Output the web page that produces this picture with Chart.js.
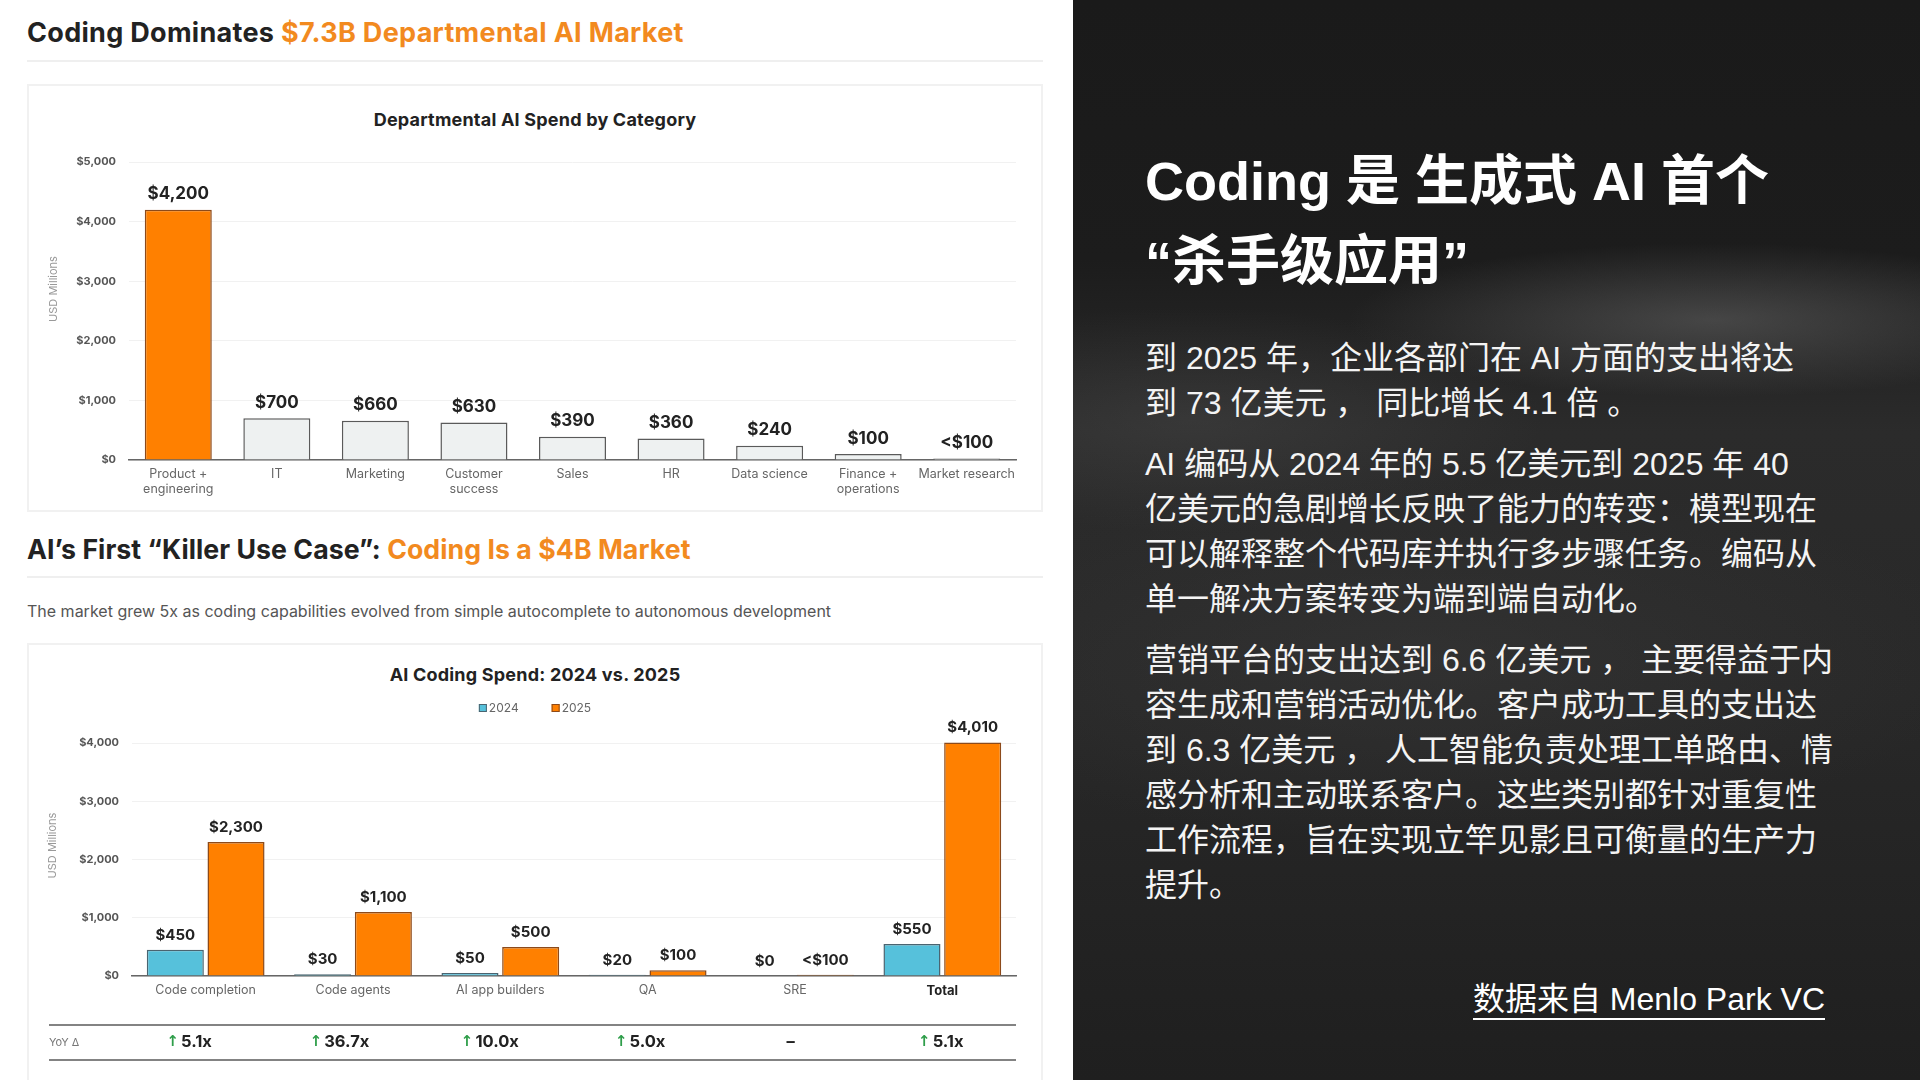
<!DOCTYPE html>
<html><head><meta charset="utf-8">
<script src="https://cdn.jsdelivr.net/npm/chart.js@4.4.1/dist/chart.umd.min.js"></script>
<style>
html,body{margin:0;padding:0;width:1920px;height:1080px;overflow:hidden;background:#fff;}
#left{position:absolute;left:0;top:0;width:1073px;height:1080px;background:#fff;font-family:Inter,"Noto Sans",sans-serif;}
.h{position:absolute;left:27px;font-weight:700;font-size:27px;color:#222;white-space:nowrap;letter-spacing:0.3px;line-height:32px}
.h span{color:#f28a1f}
.sep{position:absolute;left:27px;width:1016px;height:2px;background:#efefef}
.card{position:absolute;left:27px;width:1012px;border:2px solid #f1f1f1;background:#fff}
.ct{position:absolute;left:27px;width:1016px;text-align:center;font-weight:700;font-size:18px;color:#222;line-height:22px;letter-spacing:0.2px}
.sub{position:absolute;left:27px;top:601px;font-size:16px;color:#555;line-height:20px;white-space:nowrap}
canvas{position:absolute}
#right{position:absolute;left:1073px;top:0;width:847px;height:1080px;color:#fff;font-family:"Liberation Sans","Noto Sans CJK SC",sans-serif;
background:
 radial-gradient(ellipse 520px 110px at 640px 320px, rgba(100,100,100,0.55), rgba(100,100,100,0) 70%),
 radial-gradient(ellipse 500px 160px at 120px 420px, rgba(80,80,80,0.35), rgba(80,80,80,0) 70%),
 radial-gradient(ellipse 800px 260px at 350px 660px, rgba(60,60,60,0.45), rgba(60,60,60,0) 70%),
 linear-gradient(180deg,#1a1a1a 0%,#1c1c1c 24%,#2b2b2b 40%,#282828 65%,#1f1f1f 100%);}
.rh{position:absolute;left:72px;top:141px;font-size:54px;font-weight:700;line-height:80px;white-space:nowrap}
.rp{position:absolute;left:72px;font-size:32px;line-height:45px;white-space:nowrap;color:#f4f4f4}
.src{position:absolute;right:95px;top:981px;font-size:32px;line-height:37px;border-bottom:2px solid #fff;white-space:nowrap}
</style></head>
<body>
<div id="left">
  <div class="h" style="top:17px">Coding Dominates <span>$7.3B Departmental AI Market</span></div>
  <div class="sep" style="top:60px"></div>
  <div class="card" style="top:84px;height:424px"></div>
  <div class="ct" style="top:109px">Departmental AI Spend by Category</div>
  <canvas id="c1" width="1016" height="372" style="left:27px;top:140px;width:1016px;height:372px"></canvas>

  <div class="h" style="top:533px;font-size:26.7px;letter-spacing:0.05px">AI’s First “Killer Use Case”: <span>Coding Is a $4B Market</span></div>
  <div class="sep" style="top:576px"></div>
  <div class="sub">The market grew 5x as coding capabilities evolved from simple autocomplete to autonomous development</div>
  <div class="card" style="top:643px;height:450px"></div>
  <div class="ct" style="top:664px">AI Coding Spend: 2024 vs. 2025</div>
  <canvas id="c2" width="1016" height="385" style="left:27px;top:695px;width:1016px;height:385px"></canvas>
</div>
<div id="right">
  <div class="rh">Coding 是 生成式 AI 首个<br>“杀手级应用”</div>
  <div class="rp" style="top:336px">到 2025 年，企业各部门在 AI 方面的支出将达<br>到 73 亿美元 ， 同比增长 4.1 倍 。</div>
  <div class="rp" style="top:442px">AI 编码从 2024 年的 5.5 亿美元到 2025 年 40<br>亿美元的急剧增长反映了能力的转变：模型现在<br>可以解释整个代码库并执行多步骤任务。编码从<br>单一解决方案转变为端到端自动化。</div>
  <div class="rp" style="top:638px">营销平台的支出达到 6.6 亿美元 ， 主要得益于内<br>容生成和营销活动优化。客户成功工具的支出达<br>到 6.3 亿美元 ， 人工智能负责处理工单路由、情<br>感分析和主动联系客户。这些类别都针对重复性<br>工作流程，旨在实现立竿见影且可衡量的生产力<br>提升。</div>
  <div class="src">数据来自 Menlo Park VC</div>
</div>
<script>
// ---------- data ----------
const deptCategories = [["Product +","engineering"],"IT","Marketing",["Customer","success"],"Sales","HR","Data science",["Finance +","operations"],"Market research"];
const deptSpend = [4200,700,660,630,390,360,240,100,25];
const deptSpendLabels = ["$4,200","$700","$660","$630","$390","$360","$240","$100","<$100"];
const deptTicks = [0,1000,2000,3000,4000,5000];
const deptTickLabels = ["$0","$1,000","$2,000","$3,000","$4,000","$5,000"];

const codingCategories = ["Code completion","Code agents","AI app builders","QA","SRE","Total"];
const coding2024 = [450,30,50,20,0,550];
const coding2025 = [2300,1100,500,100,20,4010];
const coding2024Labels = ["$450","$30","$50","$20","$0","$550"];
const coding2025Labels = ["$2,300","$1,100","$500","$100","<$100","$4,010"];
const codingTicks = [0,1000,2000,3000,4000];
const codingTickLabels = ["$0","$1,000","$2,000","$3,000","$4,000"];
const yoyTitle = "YoY Δ";
const yoyValues = ["5.1x","36.7x","10.0x","5.0x","–","5.1x"];
const yoyUp = [true,true,true,true,false,true];
const seriesNames = ["2024","2025"];
const axisTitle = "USD Millions";

// ---------- styles ----------
const ORANGE = '#FF8000', ORANGE_B = '#8c4a1a', GRAY = '#EEF1F1', GRAY_B = '#5a5a5a', BLUE = '#56C1DB', BLUE_B = '#4a6470';
Chart.defaults.font.family = 'Inter, "Noto Sans", sans-serif';
Chart.defaults.animation = false;

const valueLabels = {
  id: 'valueLabels',
  afterDatasetsDraw(chart, args, opts) {
    const ctx = chart.ctx;
    chart.data.datasets.forEach((ds, di) => {
      const meta = chart.getDatasetMeta(di);
      meta.data.forEach((bar, i) => {
        ctx.save();
        ctx.font = opts.font; ctx.fillStyle = '#222';
        ctx.textAlign = 'center'; ctx.textBaseline = 'bottom';
        ctx.fillText(ds.valueLabels[i], bar.x, bar.y - opts.offset);
        ctx.restore();
      });
    });
  }
};

const sideTitle = {
  id: 'sideTitle',
  afterDraw(chart, args, opts) {
    const ctx = chart.ctx, area = chart.chartArea;
    ctx.save();
    ctx.translate(opts.x, (area.top + area.bottom) / 2 + opts.dy);
    ctx.rotate(-Math.PI / 2);
    ctx.font = '11px Inter'; ctx.fillStyle = '#999';
    ctx.textAlign = 'center'; ctx.textBaseline = 'middle';
    ctx.fillText(axisTitle, 0, 0);
    ctx.restore();
  }
};

const miniLegend = {
  id: 'miniLegend',
  afterDraw(chart) {
    const ctx = chart.ctx;
    ctx.save();
    ctx.font = '12px Inter'; ctx.textBaseline = 'middle';
    const items = chart.data.datasets.map(d => ({t: d.label, f: d.backgroundColor, b: d.borderColor, w: ctx.measureText(d.label).width}));
    const box = 8, gap = 2, spacing = 33;
    const total = items.reduce((s, it) => s + box + gap + it.w, 0) + spacing * (items.length - 1);
    let x = chart.width / 2 - total / 2;
    const y = 13;
    items.forEach(it => {
      ctx.fillStyle = it.f; ctx.fillRect(x, y - box / 2, box, box);
      ctx.strokeStyle = it.b; ctx.lineWidth = 1; ctx.strokeRect(x + 0.5, y - box / 2 + 0.5, box - 1, box - 1);
      ctx.fillStyle = '#666'; ctx.textAlign = 'left';
      ctx.fillText(it.t, x + box + gap, y + 0.5);
      x += box + gap + it.w + spacing;
    });
    ctx.restore();
  }
};

const yoyRow = {
  id: 'yoyRow',
  afterDraw(chart) {
    const ctx = chart.ctx, area = chart.chartArea;
    const left = 22, right = area.right, yTop = area.bottom + 49, yBot = area.bottom + 84, yText = area.bottom + 66.5;
    ctx.save();
    ctx.strokeStyle = '#5a5a5a'; ctx.lineWidth = 1.5;
    [yTop, yBot].forEach(y => { ctx.beginPath(); ctx.moveTo(left, y); ctx.lineTo(right, y); ctx.stroke(); });
    ctx.textBaseline = 'middle';
    ctx.font = '11px Inter'; ctx.fillStyle = '#777'; ctx.textAlign = 'left';
    ctx.fillText(yoyTitle, left, yText);
    const labelCol = 65, colW = (right - left - labelCol) / yoyValues.length;
    const vFont = 'bold 16.5px Inter';
    yoyValues.forEach((v, i) => {
      const cx = left + labelCol + colW * (i + 0.5);
      ctx.font = vFont;
      const tw = ctx.measureText(v).width;
      if (yoyUp[i]) {
        ctx.font = 'bold 15px "DejaVu Sans"';
        const aw = ctx.measureText('↑').width;
        const start = cx - (aw + 2 + tw) / 2;
        ctx.fillStyle = '#2f9e4a'; ctx.textAlign = 'left';
        ctx.fillText('↑', start, yText);
        ctx.font = vFont; ctx.fillStyle = '#222';
        ctx.fillText(v, start + aw + 2, yText);
      } else {
        ctx.fillStyle = '#222'; ctx.textAlign = 'center';
        ctx.font = vFont;
        ctx.fillText(v, cx, yText);
      }
    });
    ctx.restore();
  }
};

// ---------- chart 1 ----------
new Chart(document.getElementById('c1'), {
  type: 'bar',
  data: {
    labels: deptCategories,
    datasets: [{
      data: deptSpend,
      valueLabels: deptSpendLabels,
      backgroundColor: ctx => ctx.dataIndex === 0 ? ORANGE : GRAY,
      borderColor: ctx => ctx.dataIndex === 0 ? ORANGE_B : GRAY_B,
      borderWidth: 1.5,
      categoryPercentage: 0.8,
      barPercentage: 0.85
    }]
  },
  options: {
    responsive: false, devicePixelRatio: 1,
    layout: {padding: {top: 22, right: 27, left: 0, bottom: 0}},
    plugins: {legend: {display: false}, tooltip: {enabled: false},
      valueLabels: {font: 'bold 17px Inter', offset: 7},
      sideTitle: {x: 27, dy: -22}},
    scales: {
      x: {
        grid: {display: false, drawTicks: false},
        border: {display: true, color: '#666', width: 1.5},
        ticks: {color: '#666', font: {size: 12.5}, padding: 7, maxRotation: 0, autoSkip: false},
        afterFit: s => { s.height = 52; }
      },
      y: {
        min: 0, max: 5000,
        afterBuildTicks: s => { s.ticks = deptTicks.map(v => ({value: v})); },
        grid: {color: '#f1f1f1', drawTicks: false},
        border: {display: false},
        ticks: {color: '#555', font: {size: 11, weight: 'bold'}, padding: 13, callback: (v, i) => deptTickLabels[i]},
        afterFit: s => { s.width = 102; }
      }
    }
  },
  plugins: [valueLabels, sideTitle]
});

// ---------- chart 2 ----------
new Chart(document.getElementById('c2'), {
  type: 'bar',
  data: {
    labels: codingCategories,
    datasets: [
      {label: seriesNames[0], data: coding2024, valueLabels: coding2024Labels, backgroundColor: BLUE, borderColor: BLUE_B, borderWidth: 1.5, categoryPercentage: 0.824, barPercentage: 0.94, clip: false},
      {label: seriesNames[1], data: coding2025, valueLabels: coding2025Labels, backgroundColor: ORANGE, borderColor: ORANGE_B, borderWidth: 1.5, categoryPercentage: 0.824, barPercentage: 0.94, clip: false}
    ]
  },
  options: {
    responsive: false, devicePixelRatio: 1,
    layout: {padding: {top: 48, right: 27, left: 0, bottom: 0}},
    plugins: {legend: {display: false}, tooltip: {enabled: false},
      valueLabels: {font: 'bold 15px Inter', offset: 7},
      sideTitle: {x: 26, dy: -14}},
    scales: {
      x: {
        grid: {display: false, drawTicks: false},
        border: {display: true, color: '#666', width: 1.5},
        ticks: {
          color: c => c.index === 5 ? '#222' : '#666',
          font: c => ({size: c.index === 5 ? 13 : 12.5, weight: c.index === 5 ? 'bold' : 'normal'}),
          padding: 7, maxRotation: 0, autoSkip: false
        },
        afterFit: s => { s.height = 104; }
      },
      y: {
        min: 0, max: 4000,
        afterBuildTicks: s => { s.ticks = codingTicks.map(v => ({value: v})); },
        grid: {color: '#f1f1f1', drawTicks: false},
        border: {display: false},
        ticks: {color: '#555', font: {size: 11, weight: 'bold'}, padding: 13, callback: (v, i) => codingTickLabels[i]},
        afterFit: s => { s.width = 105; }
      }
    }
  },
  plugins: [valueLabels, miniLegend, yoyRow, sideTitle]
});
</script>
</body></html>
